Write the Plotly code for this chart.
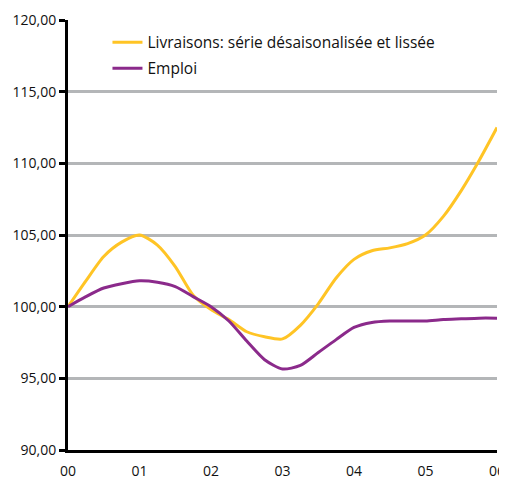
import plotly.graph_objects as go

# quarterly observations, 2000Q1 .. 2006Q1 (years since 2000)
quarters = [i / 4 for i in range(25)]
livraisons = [100.0, 101.8, 103.5, 104.5, 105.0, 104.3, 102.8, 100.8, 99.8, 99.1, 98.25, 97.9,
              97.75, 98.7, 100.2, 102.0, 103.3, 103.9, 104.1, 104.4, 105.0, 106.3, 108.1, 110.2, 112.5]
emploi = [100.0, 100.7, 101.3, 101.6, 101.8, 101.7, 101.4, 100.7, 100.0, 99.0, 97.6, 96.3,
          95.65, 95.9, 96.8, 97.7, 98.55, 98.9, 99.0, 99.0, 99.0, 99.1, 99.15, 99.2, 99.2]
x_ticks = [0, 1, 2, 3, 4, 5, 6]
x_labels = ["00", "01", "02", "03", "04", "05", "06"]
y_ticks = [90, 95, 100, 105, 110, 115, 120]
y_labels = ["90,00", "95,00", "100,00", "105,00", "110,00", "115,00", "120,00"]

fig = go.Figure()
fig.add_trace(go.Scatter(x=quarters, y=livraisons, mode="lines",
                         name="Livraisons: série désaisonalisée et lissée",
                         line=dict(color="#FFC425", width=3, shape="spline", smoothing=0.7),
                         legendgroup="a"))
fig.add_trace(go.Scatter(x=quarters, y=emploi, mode="lines", name="Emploi",
                         line=dict(color="#8B2A8B", width=3, shape="spline", smoothing=0.7),
                         legendgroup="b"))

# page body has an 8px margin, so the figure is sized/offset accordingly
fig.update_layout(
    width=499, height=472,
    margin=dict(l=60, r=10, t=12, b=30),
    paper_bgcolor="white", plot_bgcolor="white",
    font=dict(family="Open Sans", size=14, color="#111111"),
    showlegend=True,
    legend=dict(x=0.092, y=0.987, xanchor="left", yanchor="top",
                bgcolor="rgba(0,0,0,0)", tracegroupgap=3, traceorder="grouped",
                font=dict(size=15.5), itemwidth=30),
    xaxis=dict(range=[0, 6], tickvals=x_ticks, ticktext=x_labels, showgrid=False,
               showline=True, linecolor="black", linewidth=3, ticks="", zeroline=False,
               ticklabelstandoff=6, automargin=False, ticklabeloverflow="allow"),
    yaxis=dict(range=[90, 120], tickvals=y_ticks, ticktext=y_labels, showgrid=True,
               gridcolor="#B4B6B8", gridwidth=3, showline=True, linecolor="black",
               linewidth=3, ticks="outside", ticklen=6, tickwidth=3, tickcolor="black",
               zeroline=False, automargin=False),
)
fig.write_html("out.html")
